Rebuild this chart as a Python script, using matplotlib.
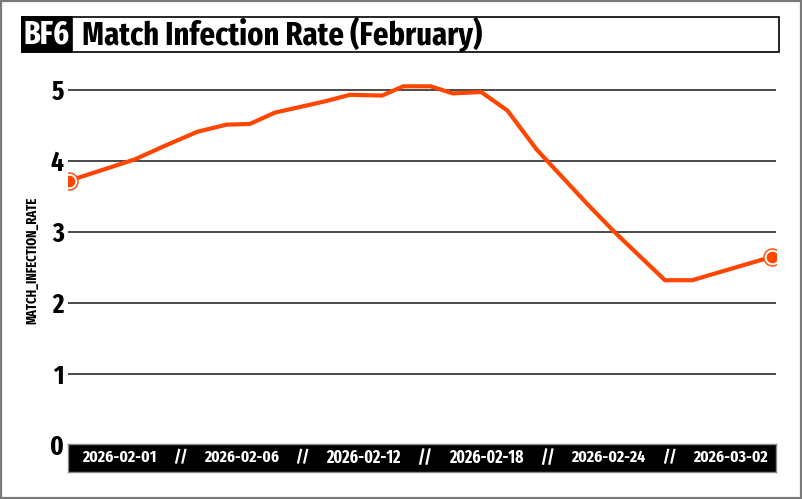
import matplotlib
matplotlib.use("Agg")
import matplotlib.pyplot as plt
import matplotlib.dates as mdates
from matplotlib import font_manager as fm
from matplotlib.patches import Rectangle
import pandas as pd

# ---- data ----
dates = ["2026-02-01 00:00", "2026-02-03 17:00", "2026-02-04 21:00", "2026-02-06 07:00",
         "2026-02-07 12:00", "2026-02-08 11:00", "2026-02-09 12:00", "2026-02-11 14:00",
         "2026-02-12 14:00", "2026-02-13 22:00", "2026-02-14 19:00", "2026-02-15 22:00",
         "2026-02-16 20:00", "2026-02-18 00:00", "2026-02-19 02:00", "2026-02-20 07:00",
         "2026-02-22 10:00", "2026-02-23 12:00", "2026-02-25 14:00", "2026-02-26 17:00",
         "2026-03-02 00:00"]
rates = [3.72, 4.02, 4.20, 4.41, 4.51, 4.52, 4.68, 4.84, 4.93, 4.92, 5.05, 5.05,
         4.95, 4.97, 4.71, 4.16, 3.38, 3.00, 2.32, 2.32, 2.65]
band_labels = ["2026-02-01", "2026-02-06", "2026-02-12", "2026-02-18", "2026-02-24", "2026-03-02"]
y_ticks = [0, 1, 2, 3, 4, 5]
title_tag = "BF6"
title_text = "Match Infection Rate (February)"
y_label = "MATCH_INFECTION_RATE"

LINE = "#FF4500"

STRETCH = {"ultra-condensed": 100, "extra-condensed": 200, "condensed": 300,
           "semi-condensed": 400, "normal": 500}


def pick_font():
    """Prefer the most condensed bold face that is installed."""
    best = None
    for f in fm.fontManager.ttflist:
        name = f.name
        st = f.stretch
        stv = STRETCH.get(st, 500) if isinstance(st, str) else int(st)
        if "Narrow" in name:
            stv = min(stv, 300)
        if "ExtraCondensed" in name or "Extra Condensed" in name:
            stv = min(stv, 200)
        elif "SemiCondensed" in name or "Semi Condensed" in name:
            stv = min(stv, 400)
        elif "Condensed" in name:
            stv = min(stv, 300)
        if stv >= 500:
            continue
        if "italic" in f.style or "oblique" in f.style:
            continue
        w = f.weight if isinstance(f.weight, int) else (700 if "bold" in str(f.weight) else 400)
        if w < 600:
            continue
        key = (stv, abs(w - 700))
        if best is None or key < best[0]:
            best = (key, f.fname)
    if best is not None:
        return fm.FontProperties(fname=best[1])
    return fm.FontProperties(family="DejaVu Sans", weight="bold")


FP = pick_font()

W, H = 803, 499
fig = plt.figure(figsize=(W / 100, H / 100), dpi=100)
fig.patch.set_facecolor("white")
renderer = fig.canvas.get_renderer()


def fx(px):
    return px / W


def fy(py):
    return 1 - py / H


def fit(t, target, size0, axis="w", max_size=None):
    t.set_fontsize(size0)
    bb = t.get_window_extent(renderer)
    cur = bb.width if axis == "w" else bb.height
    s = size0 * target / cur
    if max_size is not None:
        s = min(s, max_size)
    t.set_fontsize(s)
    return s


# outer frame
fig.patches.append(Rectangle((0.001, 0.002), 0.997, 0.996, transform=fig.transFigure,
                             fill=False, edgecolor="#7a7a7a", linewidth=1.6))

# title box
fig.patches.append(Rectangle((fx(22), fy(52)), fx(779 - 22), (52 - 17) / H,
                             transform=fig.transFigure, facecolor="white",
                             edgecolor="black", linewidth=1.2))
fig.patches.append(Rectangle((fx(22), fy(52)), fx(72 - 22), (52 - 17) / H,
                             transform=fig.transFigure, facecolor="black",
                             edgecolor="black", linewidth=1.2))
t_tag = fig.text(fx(47), fy(34.5), title_tag, color="white", fontproperties=FP.copy(),
                 ha="center", va="center")
fit(t_tag, 46, 20, max_size=27)
t_title = fig.text(fx(82), fy(34.5), title_text, color="black", fontproperties=FP.copy(),
                   ha="left", va="center")
fit(t_title, 401, 20, max_size=27)

# main axes
ax_left, ax_right, ax_top, ax_bot = 68, 776, 65, 445
ax = fig.add_axes([fx(ax_left), fy(ax_bot), fx(ax_right - ax_left), (ax_bot - ax_top) / H])
x = pd.to_datetime(dates)
ax.plot(x, rates, color=LINE, linewidth=3.0, solid_joinstyle="miter", zorder=3)
ends_x = [x[0], x[-1]]
ends_y = [rates[0], rates[-1]]
ax.scatter(ends_x, ends_y, s=150, facecolor="white", edgecolor=LINE, linewidth=1.0, zorder=4)
ax.scatter(ends_x, ends_y, s=70, facecolor=LINE, edgecolor=LINE, linewidth=0, zorder=5)

x0 = mdates.date2num(x[0])
x1 = mdates.date2num(x[-1])
ax.set_xlim(x0 - 0.04, x1 + 0.165)
ax.set_ylim(0, 5.35)
for v in y_ticks[1:]:
    ax.axhline(v, color="#2b2b2b", linewidth=1.2, zorder=1)
for s in ax.spines.values():
    s.set_visible(False)
ax.set_xticks([])
ax.set_yticks(y_ticks)
ax.set_yticklabels([str(v) for v in y_ticks])
ax.tick_params(axis="y", length=0, pad=3)
for lab in ax.get_yticklabels():
    lab.set_fontproperties(FP.copy())
    lab.set_fontsize(19.5)

# y axis title
ylab = fig.text(fx(32), fy(260), y_label, rotation=90, ha="center", va="center",
                fontproperties=FP.copy(), color="black")
fit(ylab, 127, 10, axis="h", max_size=13)

# x label band
bx = fig.add_axes([fx(68), fy(472), fx(776 - 68), (472 - 444) / H])
bx.set_facecolor("black")
bx.set_xticks([])
bx.set_yticks([])
for s in bx.spines.values():
    s.set_edgecolor("#8a8a8a")
    s.set_linewidth(1.0)
n = len(band_labels)
start, step = 0.0727, 0.1726
for i, lab in enumerate(band_labels):
    t = bx.text(start + i * step, 0.52, lab, color="white", fontproperties=FP.copy(),
                ha="center", va="center", transform=bx.transAxes)
    fit(t, 75, 12, max_size=13.5)
    if i < n - 1:
        s2 = bx.text(start + (i + 0.5) * step, 0.52, "//", color="white",
                     fontproperties=FP.copy(), ha="center", va="center",
                     transform=bx.transAxes)
        s2.set_fontsize(t.get_fontsize())

fig.savefig("out.png", dpi=100)
